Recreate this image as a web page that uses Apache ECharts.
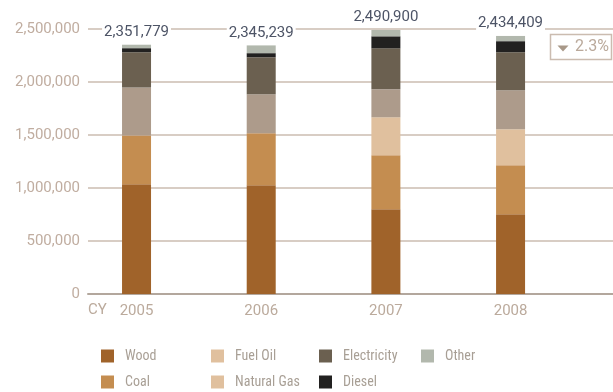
<!DOCTYPE html>
<html>
<head>
<meta charset="utf-8">
<script src="https://cdn.jsdelivr.net/npm/echarts@6/dist/echarts.min.js"></script>
<style>
  html, body { margin: 0; padding: 0; background: #fff; }
  #chart { width: 613px; height: 392px; }
</style>
</head>
<body>
<div id="chart"></div>
<script>
// Energy consumption by source, calendar years 2005-2008
const years = ['2005', '2006', '2007', '2008'];
const wood        = [1036000, 1026000,  800000,  753000];
const coal        = [ 459000,  491000,  509000,  462000];
const fuelOil     = [      0,       0,  358000,  340000];
const naturalGas  = [ 453000,  368000,  264000,  368000];
const electricity = [ 333000,  349000,  387000,  358000];
const diesel      = [  38000,   38000,  113000,  104000];
const other       = [  32779,   73239,   59900,   49409];
const yTicks = [0, 500000, 1000000, 1500000, 2000000, 2500000];
const changeLabel = '2.3%';

const seriesDefs = [
  { name: 'Wood',        data: wood,        color: '#a0632a' },
  { name: 'Coal',        data: coal,        color: '#c48d50' },
  { name: 'Fuel Oil',    data: fuelOil,     color: '#e0c09e' },
  { name: 'Natural Gas', data: naturalGas,  color: '#ad9b8b', legendColor: '#e0c09e' },
  { name: 'Electricity', data: electricity, color: '#6b6050' },
  { name: 'Diesel',      data: diesel,      color: '#222120' },
  { name: 'Other',       data: other,       color: '#b2b8ad' }
];

const totals = years.map((_, i) => seriesDefs.reduce((s, d) => s + d.data[i], 0));
const fmt = v => v.toLocaleString('en-US');

const yMin = yTicks[0];
const yMax = yTicks[yTicks.length - 1];
const yStep = yTicks[1] - yTicks[0];

const series = seriesDefs.map((d, k) => {
  const s = {
    name: d.name,
    type: 'bar',
    stack: 'total',
    xAxisIndex: 1,
    yAxisIndex: 1,
    barWidth: 29,
    itemStyle: { color: d.color },
    emphasis: { disabled: true },
    data: d.data
  };
  if (k === seriesDefs.length - 1) {
    s.label = {
      show: true,
      position: 'top',
      distance: 5,
      formatter: p => fmt(totals[p.dataIndex]),
      fontFamily: 'Roboto',
      fontSize: 15,
      color: '#4d5466',
      backgroundColor: '#ffffff',
      padding: [1, 2, 0, 2]
    };
  }
  return s;
});

const legendFont = {
  fontFamily: '"Liberation Sans Narrow", "Roboto Condensed", Roboto',
  fontSize: 14, lineHeight: 13, color: '#a89f95', padding: [0, 0, 0, 6]
};
const legendCols = [
  { left: 101, names: ['Wood', 'Coal'] },
  { left: 211, names: ['Fuel Oil', 'Natural Gas'] },
  { left: 319, names: ['Electricity', 'Diesel'] },
  { left: 421, names: ['Other'] }
];
const legends = legendCols.map(c => ({
  orient: 'vertical',
  left: c.left,
  top: 349,
  height: 42,
  padding: 0,
  itemWidth: 13,
  itemHeight: 13,
  itemGap: 12,
  icon: 'rect',
  selectedMode: false,
  textStyle: legendFont,
  data: c.names.map(n => {
    const d = seriesDefs.find(s => s.name === n);
    return { name: n, itemStyle: { color: d.legendColor || d.color } };
  })
}));

const chart = echarts.init(document.getElementById('chart'), null, { renderer: 'canvas' });
chart.setOption({
  animation: false,
  backgroundColor: '#ffffff',
  grid: [
    // full-width grid carrying the value scale and gridlines
    { left: 88, right: 0, top: 29, bottom: 98 },
    // grid holding the stacked bars, one band per year
    { left: 74.2, right: 40.1, top: 29, bottom: 98 }
  ],
  legend: legends,
  xAxis: [
    {
      gridIndex: 0,
      type: 'value',
      min: 0, max: 1,
      splitLine: { show: false },
      axisTick: { show: false },
      axisLabel: { show: false },
      axisLine: { show: true, onZero: false, lineStyle: { color: '#b3a79d', width: 2 } }
    },
    {
      gridIndex: 1,
      type: 'category',
      data: years,
      boundaryGap: true,
      axisLine: { show: false },
      axisTick: { show: false },
      splitLine: { show: false },
      axisLabel: {
        fontFamily: 'Roboto',
        fontSize: 15,
        color: '#bbaa9c',
        margin: 10
      }
    }
  ],
  yAxis: [
    {
      gridIndex: 0,
      type: 'value',
      min: yMin, max: yMax, interval: yStep,
      axisLine: { show: false },
      axisTick: { show: false },
      splitLine: { lineStyle: { color: '#cbbcb0', width: 1.5 } },
      axisLabel: {
        formatter: v => fmt(v),
        fontFamily: 'Roboto',
        fontSize: 15,
        color: '#c0ada0',
        margin: 8
      }
    },
    {
      gridIndex: 1,
      type: 'value',
      min: yMin, max: yMax, interval: yStep,
      show: false
    }
  ],
  series: series,
  graphic: [
    { type: 'text', left: 88, top: 303, style: { text: 'CY', fontFamily: 'Roboto', fontSize: 15, fill: '#bbaa9c' } },
    { type: 'rect', shape: { x: 550.5, y: 34.5, width: 61, height: 25 }, style: { fill: '#ffffff', stroke: '#cbbcb0', lineWidth: 1.5 } },
    { type: 'polygon', shape: { points: [[557.5, 45.5], [568.5, 45.5], [563, 51.5]] }, style: { fill: '#a89888' } },
    { type: 'text', x: 575, y: 47, style: { text: changeLabel, fontFamily: 'Roboto', fontSize: 16, fill: '#baa99b', verticalAlign: 'middle' } }
  ]
});
</script>
</body>
</html>
